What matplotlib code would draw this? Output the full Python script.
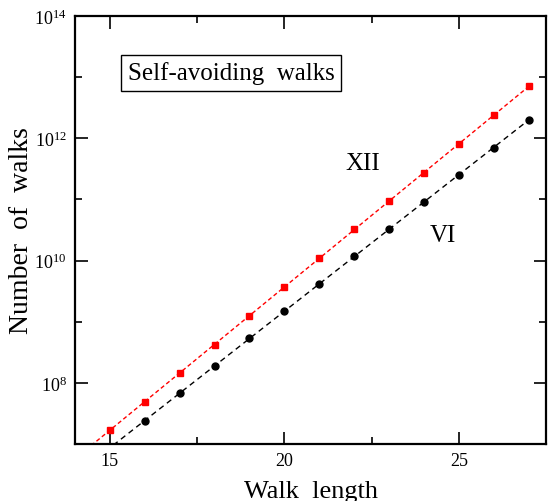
import numpy as np
import matplotlib
matplotlib.use('Agg')
import matplotlib.pyplot as plt
from matplotlib.ticker import FixedLocator, MultipleLocator, FuncFormatter

plt.rcParams['font.family'] = 'Liberation Serif'
plt.rcParams['mathtext.fontset'] = 'custom'
plt.rcParams['mathtext.rm'] = 'Liberation Serif'
plt.rcParams['mathtext.it'] = 'Liberation Serif:italic'

# log10 of the walk counts
n_xii = [15, 16, 17, 18, 19, 20, 21, 22, 23, 24, 25, 26, 27]
log_xii = [7.235, 7.689, 8.164, 8.622, 9.097, 9.561, 10.04, 10.511,
           10.970, 11.440, 11.903, 12.378, 12.848]
n_vi = [16, 17, 18, 19, 20, 21, 22, 23, 24, 25, 26, 27]
log_vi = [7.382, 7.830, 8.278, 8.726, 9.168, 9.615, 10.069, 10.516,
          10.958, 11.400, 11.849, 12.296]

fig = plt.figure(figsize=(5.48, 5.02), dpi=100)
ax = fig.add_axes([75/548, 1 - 445/502, 471/548, 428/502])

# dashed fit lines (in log space), extended down to the bottom edge
xfit = np.linspace(14, 27, 50)
p = np.polyfit(n_xii, log_xii, 1)
ax.plot(xfit, 10**np.polyval(p, xfit), color='red', ls=(0, (3, 2)), lw=1)
p = np.polyfit(n_vi, log_vi, 1)
ax.plot(xfit, 10**np.polyval(p, xfit), color='black', ls=(0, (4, 3)), lw=1)

ax.plot(n_xii, 10**np.array(log_xii), 's', color='red', ms=5, mec='red')
ax.plot(n_vi, 10**np.array(log_vi), 'o', color='black', ms=5)

ax.set_yscale('log')
ax.set_xlim(14, 27.5)
ax.set_ylim(1e7, 1e14)

ax.xaxis.set_major_locator(MultipleLocator(5))
ax.xaxis.set_minor_locator(MultipleLocator(2.5))
ax.yaxis.set_major_locator(FixedLocator([1e8, 1e10, 1e12, 1e14]))
ax.yaxis.set_minor_locator(FixedLocator([1e9, 1e11, 1e13]))
ax.yaxis.set_major_formatter(FuncFormatter(lambda v, pos: r'$10^{%d}$' % round(np.log10(v))))
ax.yaxis.set_minor_formatter(FuncFormatter(lambda v, pos: ''))

ax.tick_params(which='both', direction='in', top=True, right=True, labelsize=13, width=1.2)
ax.tick_params(which='major', length=9, pad=6)
ax.tick_params(which='minor', length=5)
for s in ax.spines.values():
    s.set_linewidth(1.6)

ax.set_xlabel('Walk  length', fontsize=19, labelpad=8)
ax.set_ylabel('Number  of  walks', fontsize=20)
ax.yaxis.set_label_coords(-0.088, 0.5)

ax.text(362.5/548, 1 - 164.5/502, 'XII', transform=fig.transFigure,
        fontsize=18, ha='center', va='center')
ax.text(443/548, 1 - 235.5/502, 'VI', transform=fig.transFigure,
        fontsize=18, ha='center', va='center')
ax.text(231/548, 1 - 74/502, 'Self-avoiding  walks', transform=fig.transFigure,
        fontsize=18, ha='center', va='center',
        bbox=dict(boxstyle='square,pad=0.25', fc='white', ec='black', lw=1))

fig.savefig('out.png', dpi=100)
